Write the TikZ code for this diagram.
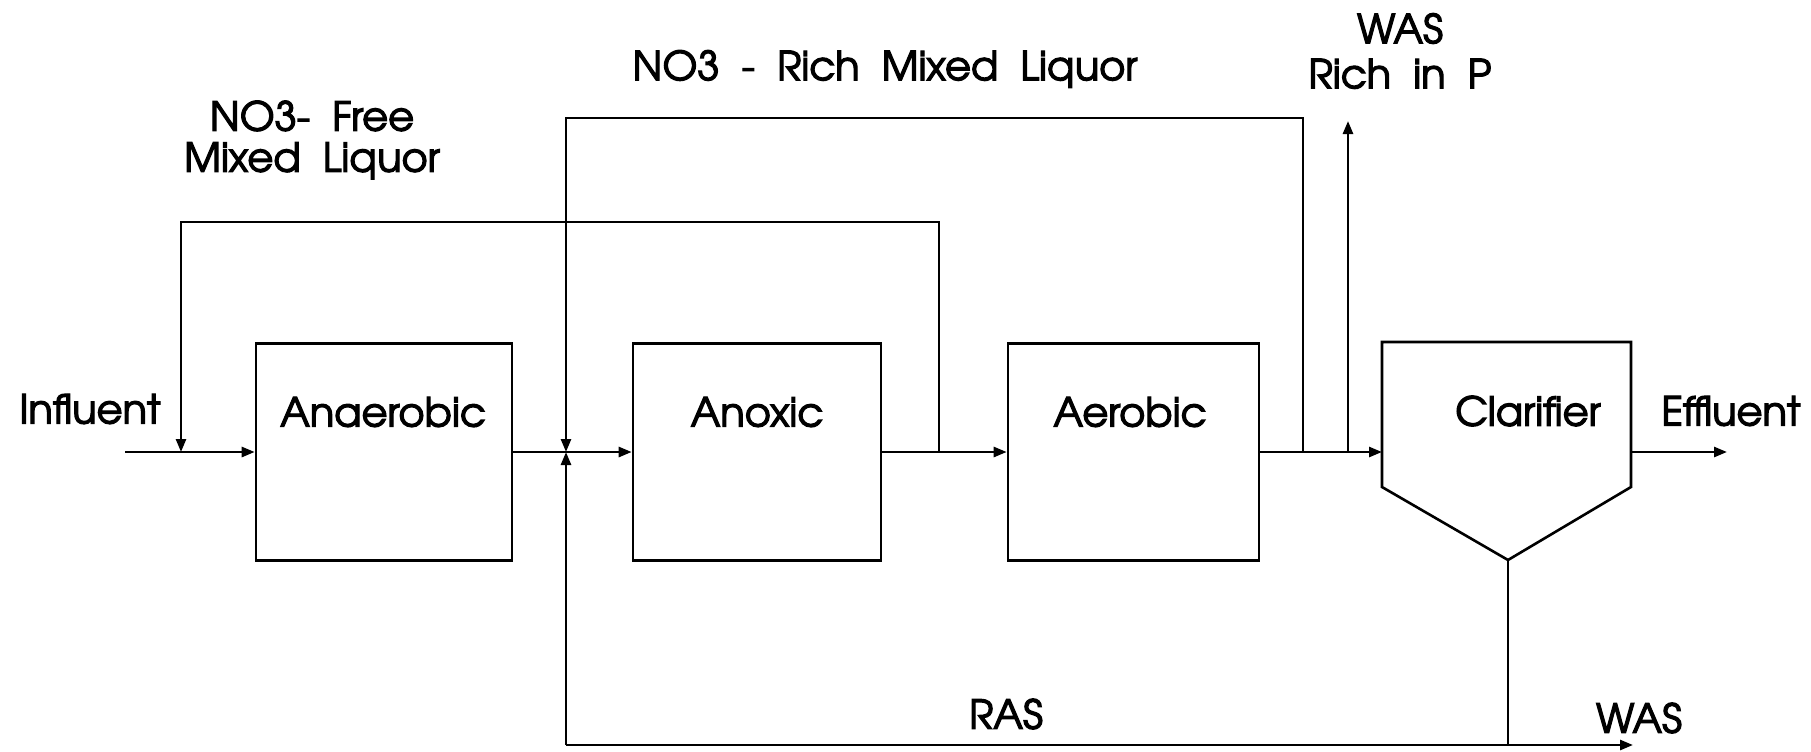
\documentclass[tikz,border=0pt]{standalone}
\usepackage{fontspec}
\setmainfont[FakeBold=3]{TeX Gyre Adventor}
\newfontfamily\capfont[WordSpace=2.0,FakeBold=3]{TeX Gyre Adventor}
\usetikzlibrary{arrows.meta}
\begin{document}
\begin{tikzpicture}[x=0.5pt,y=-0.5pt,
  line width=1.3pt,
  tip/.style={-{Triangle[length=6.5pt,width=5pt]}},
  tank/.style={draw,line width=1.3pt,minimum width=#1*0.5pt,minimum height=108.5pt,inner sep=0pt},
  lbl/.style={font=\fontsize{20}{24}\selectfont,inner sep=0pt},
  captxt/.style={font=\capfont\fontsize{20}{20.5}\selectfont,inner sep=0pt,align=center}]
\useasboundingbox (0,0) rectangle (1811,751);
% tanks
\node[tank=256] (anaer) at (384,452) {};
\node[tank=248] (anox) at (757,452) {};
\node[tank=251] (aer) at (1133.5,452) {};
\node[lbl] (anaerT) at (383,412) {Anaerobic};
\node[lbl] (anoxT) at (757,412) {Anoxic};
\node[lbl] (aerT) at (1130,412) {Aerobic};
% clarifier
\coordinate (cTL) at (1382,342);
\coordinate (cTR) at (1631,342);
\coordinate (cBR) at (1631,487);
\coordinate (cTip) at (1508,560);
\coordinate (cBL) at (1382,487);
\coordinate (cW) at (1382,452);
\coordinate (cE) at (1631,452);
\draw (cTL) -- (cTR) -- (cBR) -- (cTip) -- (cBL) -- cycle;
\node[lbl] (clarT) at (1528,411) {Clarifier};
% junctions
\coordinate (inS) at (125,452);
\coordinate (j1) at (181,452);
\coordinate (j1t) at (181,222);
\coordinate (j2t) at (939,222);
\coordinate (j2) at (939,452);
\coordinate (r1) at (566,452);
\coordinate (r1t) at (566,118);
\coordinate (r2t) at (1303,118);
\coordinate (r2) at (1303,452);
\coordinate (w1) at (1348,452);
\coordinate (w1t) at (1348,121);
\coordinate (effE) at (1727,452);
\coordinate (rasB) at (566,745);
\coordinate (cB) at (1508,745);
\coordinate (wasE) at (1633,745);
% main flow
\draw[tip] (inS) -- (anaer.west);
\draw[tip] (anaer.east) -- (anox.west);
\draw[tip] (anox.east) -- (aer.west);
\draw[tip] (aer.east) -- (cW);
\draw[tip] (cE) -- (effE);
% NO3-free recycle
\draw[tip] (j2) -- (j2t) -- (j1t) -- (j1);
% NO3-rich recycle
\draw[tip] (r2) -- (r2t) -- (r1t) -- (r1);
% WAS rich in P
\draw[tip] (w1) -- (w1t);
% RAS / WAS
\draw (cTip) -- (cB);
\draw[tip] (rasB) -- (wasE);
\draw[tip] (rasB) -- (r1);
% labels
\node[lbl] (infT) at (90,409) {Influent};
\node[lbl] (effT) at (1731,411) {Effluent};
\node[captxt] (richT) at (885,69) {NO3 - Rich Mixed Liquor};
\node[captxt] (freeT) at (312,140) {NO3- Free\\Mixed Liquor};
\node[captxt,font=\capfont\fontsize{20}{22.5}\selectfont] (wasPT) at (1400,51) {WAS\\Rich in P};
\node[captxt] (rasT) at (1006,714) {RAS};
\node[captxt] (wasT) at (1639,718) {WAS};
\end{tikzpicture}
\end{document}
